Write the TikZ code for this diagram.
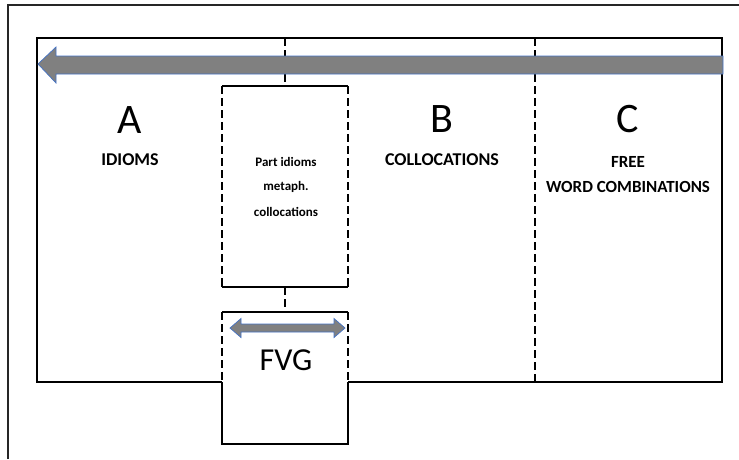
\documentclass[tikz,border=0pt]{standalone}
\usepackage{fontspec}
\setmainfont{Carlito}
\definecolor{arrowedge}{RGB}{68,114,196}
\definecolor{arrowfill}{RGB}{128,128,128}
\tikzset{
  outerline/.style={line width=1.3pt, draw=black!85},
  innerline/.style={line width=2.2pt, draw=black},
  thinline/.style={line width=1.5pt, draw=black},
  dashline/.style={line width=1.5pt, draw=black, dash pattern=on 8pt off 4pt},
  bigletter/.style={font=\fontsize{42}{46}\selectfont, inner sep=0pt},
  catlabel/.style={font=\bfseries\fontsize{18}{25}\selectfont, inner sep=0pt, align=center},
  freelabel/.style={font=\bfseries\fontsize{17}{25}\selectfont, inner sep=0pt, align=center},
  smalllabel/.style={font=\bfseries\fontsize{13}{25}\selectfont, inner sep=0pt, align=center},
  fvglabel/.style={font=\fontsize{32}{36}\selectfont, inner sep=0pt},
  arrowshape/.style={fill=arrowfill, draw=arrowedge, line width=0.7pt, line join=miter}
}
\begin{document}
\begin{tikzpicture}[x=1pt,y=-1pt]
\useasboundingbox (0,0) rectangle (739,459);
% outer frame (cropped at right and bottom)
\draw[outerline] (8,459) -- (8,5) -- (739,5);
% inner frame with gap for FVG box
\draw[innerline] (222,382) -- (37,382) -- (37,38) -- (722,38) -- (722,382) -- (348,382);
% coordinates
\coordinate (t1) at (285,38);
\coordinate (pTL) at (222,86);
\coordinate (pTR) at (348,86);
\coordinate (pBL) at (222,287);
\coordinate (pBR) at (348,287);
\coordinate (pTop) at (285,86);
\coordinate (pBot) at (285,287);
\coordinate (fTop) at (285,312);
\coordinate (fTL) at (222,312);
\coordinate (fTR) at (348,312);
\coordinate (fML) at (222,382);
\coordinate (fMR) at (348,382);
\coordinate (fBL) at (222,444);
\coordinate (fBR) at (348,444);
\coordinate (d1) at (535,38);
\coordinate (d2) at (535,382);
% dashed dividers
\draw[dashline] (t1) -- (pTop);
\draw[dashline] (d1) -- (d2);
\draw[dashline] (pBot) -- (fTop);
% partial idioms box
\draw[thinline] (pTL) -- (pTR);
\draw[thinline] (pBL) -- (pBR);
\draw[dashline] (pTL) -- (pBL);
\draw[dashline] (pTR) -- (pBR);
\draw[thinline] (pBL) -- ++(0,-5);
\draw[thinline] (pBR) -- ++(0,-5);
% FVG box
\draw[thinline] (fTL) -- (fTR);
\draw[dashline] (fTL) -- (fML);
\draw[dashline] (fTR) -- (fMR);
\draw[thinline] (fML) -- (fBL) -- (fBR) -- (fMR);
% big arrow
\draw[arrowshape] (38,64) -- (56,47) -- (56,56) -- (723,56) -- (723,74) -- (56,74) -- (56,83) -- cycle;
% double arrow
\draw[arrowshape] (230,328) -- (241,318.5) -- (241,324) -- (334,324) -- (334,318.5) -- (345,328) -- (334,337.5) -- (334,332) -- (241,332) -- (241,337.5) -- cycle;
% texts
\node[bigletter] (A) at (130,120) {A};
\node[catlabel] (idioms) at (130,160) {IDIOMS};
\node[bigletter] (B) at (442,119) {B};
\node[catlabel] (coll) at (442,160) {COLLOCATIONS};
\node[bigletter] (C) at (628,119) {C};
\node[freelabel] (free) at (628,162) {FREE};
\node[freelabel] (wc) at (628,187) {WORD COMBINATIONS};
\node[smalllabel] (p1) at (286,162) {Part idioms};
\node[smalllabel] (p2) at (286,187) {metaph.};
\node[smalllabel] (p3) at (286,212) {collocations};
\node[fvglabel] (fvg) at (286,360) {FVG};
\end{tikzpicture}
\end{document}
